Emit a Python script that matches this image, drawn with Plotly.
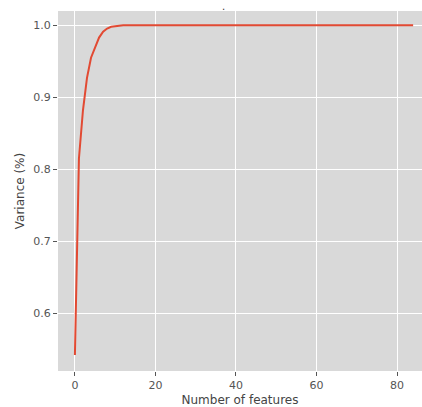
import plotly.graph_objects as go

n_features = list(range(85))
variance = [0.542, 0.815, 0.882, 0.927, 0.955, 0.970, 0.983, 0.991, 0.9955, 0.998, 0.999] + [1.0] * 74
x_ticks = [0, 20, 40, 60, 80]
y_ticks = [0.6, 0.7, 0.8, 0.9, 1.0]

fig = go.Figure()
fig.add_trace(go.Scatter(x=n_features, y=variance, mode="lines",
                         line=dict(color="#E24A33", width=2)))

font = "DejaVu Sans"
fig.update_layout(
    width=422, height=407,
    margin=dict(l=58, r=0, t=11, b=36, pad=0),
    paper_bgcolor="white", plot_bgcolor="#D9D9D9",
    showlegend=False,
    font=dict(family=font, size=11, color="#555555"),
)
fig.add_annotation(text=".", xref="paper", yref="paper", x=0.456, y=1.0,
                   xanchor="center", yanchor="bottom", showarrow=False, yshift=-3,
                   font=dict(size=10, color="#333333"))
fig.update_xaxes(range=[-4.2, 86.2], tickvals=x_ticks, ticks="outside", ticklen=4,
                 tickcolor="#555555", gridcolor="white", gridwidth=1, zeroline=False,
                 showline=False, automargin=False,
                 title=dict(text="Number of features", standoff=4,
                            font=dict(size=12, color="#444444")))
fig.update_yaxes(range=[0.5198, 1.0199], tickvals=y_ticks, tickformat=".1f",
                 ticks="outside", ticklen=4, tickcolor="#555555",
                 gridcolor="white", gridwidth=1, zeroline=False, showline=False,
                 automargin=False,
                 title=dict(text="Variance (%)", standoff=6,
                            font=dict(size=12, color="#444444")))
fig.write_html("out.html", config={"displayModeBar": False},
               post_script="document.body.style.margin='0';document.body.style.overflow='hidden';")
